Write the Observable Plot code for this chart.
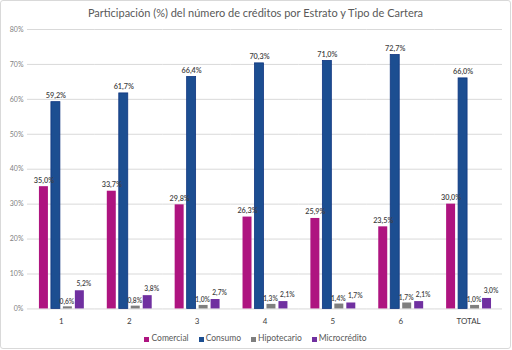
<!DOCTYPE html>
<html>
<head>
<meta charset="utf-8">
<script src="https://cdn.jsdelivr.net/npm/d3@7"></script>
<script src="https://cdn.jsdelivr.net/npm/@observablehq/plot@0.6"></script>
<style>
  html, body { margin: 0; padding: 0; background: #fff; }
  #chart { box-sizing: border-box; width: 511px; height: 349px; border: 1px solid #d9d9d9; border-radius: 3px; font-family: Lato, "Open Sans", sans-serif; position: relative; overflow: hidden; }
  #title { height: 24px; line-height: 24px; text-align: center; font-size: 11px; color: #595959; }
  #plot svg { display: block; }
  #legend { display: flex; justify-content: center; gap: 10px; font-size: 8.5px; color: #595959; margin-top: 2px; height: 16px; align-items: center; }
  #legend span.sw { display: inline-block; width: 5px; height: 5px; margin-right: 2px; vertical-align: middle; }
</style>
</head>
<body>
<div id="chart">
  <div id="title">Participación (%) del número de créditos por Estrato y Tipo de Cartera</div>
  <div id="plot"></div>
  <div id="legend"></div>
</div>
<script>
const categorias = ["1", "2", "3", "4", "5", "6", "TOTAL"];
const series = ["Comercial", "Consumo", "Hipotecario", "Microcrédito"];
const comercial = [35.0, 33.7, 29.8, 26.3, 25.9, 23.5, 30.0];
const consumo = [59.2, 61.7, 66.4, 70.3, 71.0, 72.7, 66.0];
const hipotecario = [0.6, 0.8, 1.0, 1.3, 1.4, 1.7, 1.0];
const microcredito = [5.2, 3.8, 2.7, 2.1, 1.7, 2.1, 3.0];
const colores = ["#ae1480", "#1c4e91", "#7f7f7f", "#7030a0"];
const yTicks = [0, 10, 20, 30, 40, 50, 60, 70, 80];

const valores = [comercial, consumo, hipotecario, microcredito];
const data = [];
categorias.forEach((c, i) => {
  series.forEach((s, j) => {
    data.push({cat: c, serie: s, valor: valores[j][i]});
  });
});

const fmt = v => v.toFixed(1).replace(".", ",") + "%";
const textStyle = {x: "serie", y: "valor", text: d => fmt(d.valor), lineAnchor: "bottom", fontSize: 6.7, fontWeight: 600, fill: "#404040"};

const chart = Plot.plot({
  width: 510,
  height: 304,
  marginTop: 4,
  marginLeft: 24,
  marginRight: 6,
  marginBottom: 20,
  style: {fontFamily: "Lato, 'Open Sans', sans-serif", background: "transparent"},
  facet: {data, x: "cat"},
  fx: {domain: categorias, padding: 0, label: null, tickSize: 0, tickPadding: 9},
  x: {domain: series, axis: null, paddingInner: 0.27, paddingOuter: 0.92},
  y: {domain: [0, 80], ticks: yTicks, tickFormat: d => d + "%", tickSize: 0, tickPadding: 4, label: null},
  color: {domain: series, range: colores},
  marks: [
    Plot.ruleY(yTicks, {stroke: "#d9d9d9", strokeWidth: 1}),
    Plot.barY(data, {x: "serie", y: "valor", fill: "serie", stroke: d => d.serie === "Consumo" ? "#0f3580" : "none", strokeWidth: 0.8}),
    Plot.text(data, {...textStyle, fontSize: 7.3, filter: d => d.serie === "Comercial" || d.serie === "Consumo", dy: -4}),
    Plot.text(data, {...textStyle, filter: d => d.serie === "Hipotecario", dy: -3, dx: -1}),
    Plot.text(data, {...textStyle, filter: d => d.serie === "Microcrédito", dy: -5, dx: 4})
  ]
});

chart.querySelectorAll("g[aria-label='y-axis tick label'] text, g[aria-label='y-axis'] text").forEach(t => { t.setAttribute("fill", "#7f7f7f"); t.style.fontSize = "7px"; });
chart.querySelectorAll("g[aria-label='fx-axis tick label'] text, g[aria-label='fx-axis'] text").forEach(t => { t.setAttribute("fill", "#404040"); t.style.fontSize = "8px"; });
document.getElementById("plot").appendChild(chart);

const legend = document.getElementById("legend");
series.forEach((s, i) => {
  const item = document.createElement("span");
  item.innerHTML = `<span class="sw" style="background:${colores[i]}"></span>${s}`;
  legend.appendChild(item);
});
</script>
</body>
</html>
